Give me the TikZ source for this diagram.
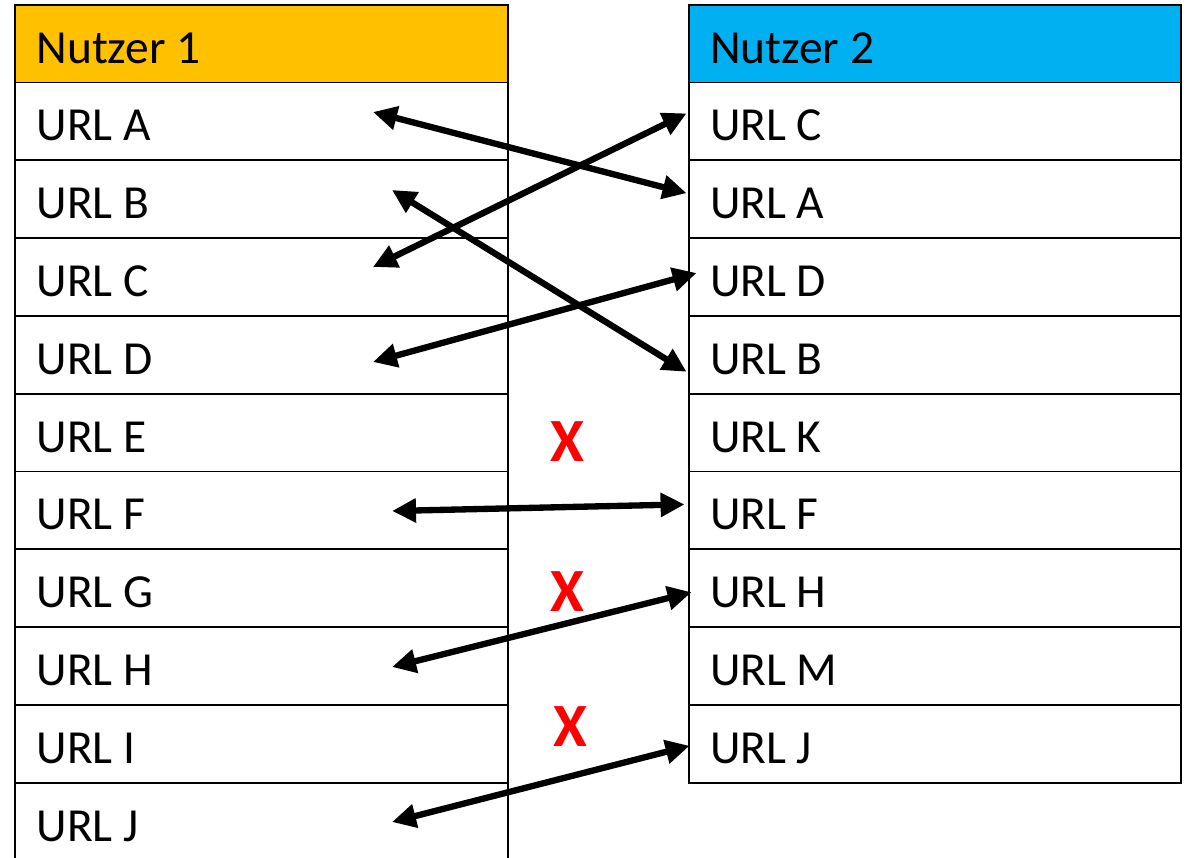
\documentclass[tikz,border=0pt]{standalone}
\usepackage{fontspec}
\setmainfont{Carlito}
\usetikzlibrary{arrows.meta,calc}
\definecolor{nutzerorange}{HTML}{FFC000}
\definecolor{nutzerblau}{HTML}{00B0F0}

\begin{document}
\begin{tikzpicture}[x=0.02cm,y=-0.02cm,
  cell/.style={draw,line width=1.1pt,minimum height=1.556cm,text width=9.0cm,
    inner xsep=0.43cm,inner ysep=0pt,text height=0.78cm,text depth=0cm,
    align=flush left,font=\fontsize{27}{30}\selectfont},
  link/.style={{Triangle[length=0.48cm,width=0.46cm]}-{Triangle[length=0.48cm,width=0.46cm]},line width=3.6pt},
  cross/.style={text=red,font=\fontsize{35}{40}\selectfont\bfseries}]
\useasboundingbox (0,0) rectangle (1188,858);
% headers
\node [cell,fill=nutzerorange,minimum height=1.55cm] (h1) at (261.5,43.75) {Nutzer 1};
\node [cell,fill=nutzerblau,minimum height=1.55cm] (h2) at (935,43.75) {Nutzer 2};
% rows
\foreach \t [count=\i] in {A,B,C,D,E,F,G,H,I,J}
  \node [cell] (l\i) at (261.5,{82.5+(\i-0.5)*77.8}) {URL \t};
\foreach \t [count=\i] in {C,A,D,B,K,F,H,M,J}
  \node [cell] (r\i) at (935,{82.5+(\i-0.5)*77.8}) {URL \t};
% links
\draw [link] ($(l1.center)+(111.5,-9.4)$) -- ($(r2.west)+(-1,-6)$);
\draw [link] ($(l2.center)+(130.5,-9.2)$) -- ($(r4.west)+(-1,17)$);
\draw [link] ($(l3.center)+(111.5,-10)$) -- ($(r1.west)+(-1,-8)$);
\draw [link] ($(l4.center)+(111.5,7.2)$) -- ($(r3.west)+(9,-4)$);
\draw [link] ($(l6.center)+(130.5,0.6)$) -- ($(r6.west)+(-3,-6)$);
\draw [link] ($(l8.center)+(130.5,1)$) -- ($(r7.west)+(4,4)$);
\draw [link] ($(l10.center)+(130.5,0.4)$) -- ($(r9.west)+(2,2)$);
% no match
\node [cross] (x1) at (567,442) {X};
\node [cross] (x2) at (567,592) {X};
\node [cross] (x3) at (570,727) {X};
\end{tikzpicture}
\end{document}
